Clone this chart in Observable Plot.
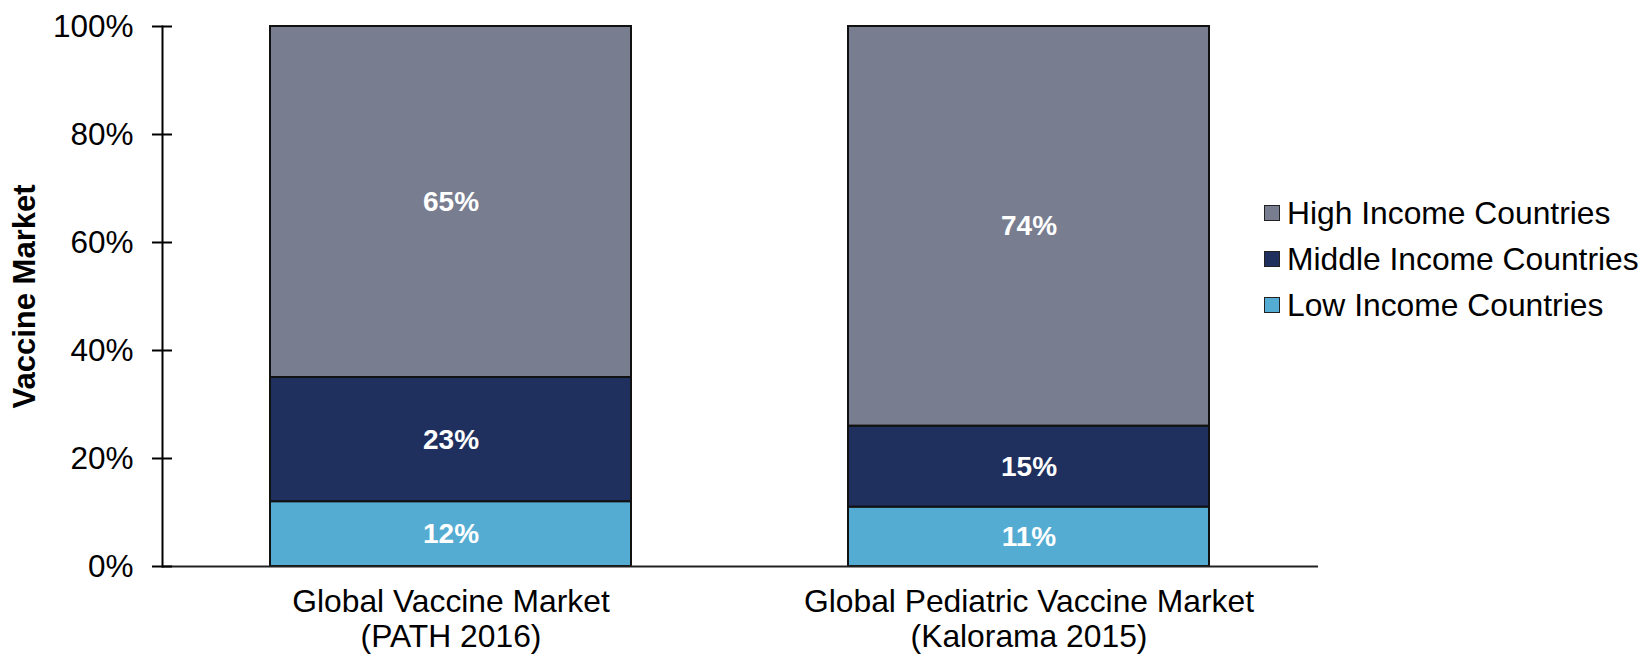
<!DOCTYPE html>
<html>
<head>
<meta charset="utf-8">
<script src="https://cdn.jsdelivr.net/npm/d3@7"></script>
<script src="https://cdn.jsdelivr.net/npm/@observablehq/plot@0.6"></script>
<style>
  html, body { margin: 0; padding: 0; background: #fff; }
  #wrap { position: relative; width: 1645px; height: 657px; font-family: "Liberation Sans", Arial, sans-serif; }
  #legend { position: absolute; left: 1264px; top: 190px; }
  .row { display: flex; align-items: center; height: 46px; font-size: 31.8px; color: #000; white-space: nowrap; }
  .sw { width: 14px; height: 14px; border: 1.5px solid #222; margin-right: 7px; flex: none; }
</style>
</head>
<body>
<div id="wrap"><div id="legend"></div></div>
<script>
// ---- data ----
const markets = ["Global Vaccine Market\n(PATH 2016)", "Global Pediatric Vaccine Market\n(Kalorama 2015)"];
const incomeGroups = ["Low Income Countries", "Middle Income Countries", "High Income Countries"]; // bottom to top
const lowValues = [12, 11];
const middleValues = [23, 15];
const highValues = [65, 74];
const yTicks = [0, 20, 40, 60, 80, 100];
const legendOrder = ["High Income Countries", "Middle Income Countries", "Low Income Countries"];
const colors = {"High Income Countries": "#787d8f", "Middle Income Countries": "#1f2f5e", "Low Income Countries": "#54acd2"};

const seriesValues = [lowValues, middleValues, highValues];
const rows = [];
markets.forEach((m, i) => {
  incomeGroups.forEach((g, j) => rows.push({market: m, income: g, value: seriesValues[j][i]}));
});

const font = "Liberation Sans, Arial, sans-serif";

const chart = Plot.plot({
  width: 1645,
  height: 657,
  marginTop: 26,
  marginBottom: 91,
  marginLeft: 162,
  marginRight: 327,
  style: {fontFamily: font, background: "white", color: "#000"},
  x: {domain: markets, paddingInner: 0.3754, paddingOuter: 0.1877, label: null},
  y: {domain: [0, 100], label: null},
  color: {domain: legendOrder, range: legendOrder.map(k => colors[k])},
  marks: [
    Plot.barY(rows, {x: "market", y: "value", fill: "income", order: incomeGroups, stroke: "#111", strokeWidth: 2}),
    Plot.text(rows, Plot.stackY({x: "market", y: "value", z: "income", order: incomeGroups,
      text: d => d.value + "%", fill: "white", fontSize: 28, fontWeight: "bold"})),
    Plot.ruleY([0], {stroke: "#222", strokeWidth: 2}),
    Plot.frame({anchor: "left", stroke: "#000", strokeWidth: 2}),
    Plot.axisY({ticks: yTicks, tickSize: 20, dx: 10, tickPadding: 19, tickFormat: d => d + "%",
      fontSize: 31.5, stroke: "#000", strokeWidth: 2, label: null}),
    Plot.axisX({tickSize: 0, tickPadding: 21, fontSize: 31.8, lineHeight: 1.1, label: null}),
    Plot.text(["Vaccine Market"], {frameAnchor: "left", textAnchor: "middle", rotate: -90, dx: -137,
      fontSize: 31, fontWeight: "bold", fill: "#000"})
  ]
});
document.getElementById("wrap").prepend(chart);

const legend = document.getElementById("legend");
legendOrder.forEach(k => {
  const r = document.createElement("div");
  r.className = "row";
  const s = document.createElement("span");
  s.className = "sw";
  s.style.background = colors[k];
  const t = document.createElement("span");
  t.textContent = k;
  r.append(s, t);
  legend.append(r);
});
</script>
</body>
</html>
